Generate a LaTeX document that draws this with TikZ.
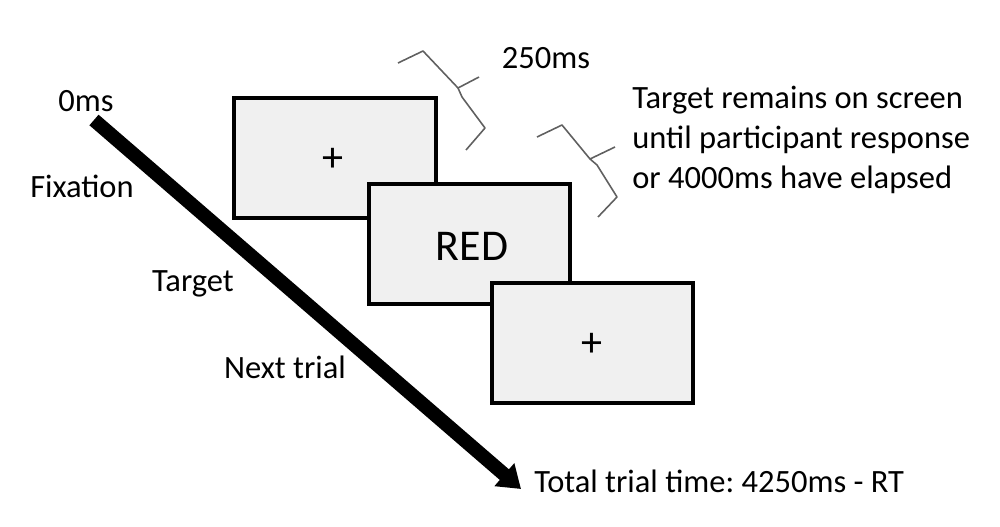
\documentclass[tikz,border=0pt]{standalone}
\usepackage{fontspec}
\setmainfont{Carlito}
\usetikzlibrary{arrows.meta}
\frenchspacing

\begin{document}
\begin{tikzpicture}[x=0.02cm, y=-0.02cm, >={Triangle[length=0.44cm,width=0.58cm]}]
        \useasboundingbox (0,0) rectangle (1000,527);
        \tikzset{screen/.style={draw, line width=0.08cm, fill=gray!12, minimum width=4.04cm, minimum height=2.4cm, inner sep=0pt},
                 lbl/.style={font=\fontsize{18.5}{22}\selectfont, inner sep=0pt},
                 brc/.style={gray!75!black, line width=0.9pt, line join=round}}

        % Time axis
        \coordinate (t0) at (94,120);
        \coordinate (tend) at (521,489);
        \draw[->, line width=0.28cm] (t0) -- (tend);

        % The three screens
        \node[screen] (fix) at (335,158) {};
        \node[font=\fontsize{24}{26}\selectfont, inner sep=0pt] at (333,160) {+};
        \node[screen] (tgt) at (469.5,244) {};
        \node[font=\fontsize{25}{28}\selectfont, inner sep=0pt] (red) at (472,246) {RED};
        \node[screen] (nxt) at (592.5,343) {};
        \node[font=\fontsize{24}{26}\selectfont, inner sep=0pt] at (592,345) {+};

        % Labels along the axis
        \node[lbl] (zero) at (86,101) {0ms};
        \node[lbl] (lfix) at (82,186) {Fixation};
        \node[lbl] (ltgt) at (193,284) {Target};
        \node[lbl] (lnxt) at (285,367) {Next trial};
        \node[lbl, anchor=west] (total) at (534,481) {Total trial time: 4250ms - RT};

        % Braces and durations
        \draw[brc] (398,63) -- (423,51) -- (458,88) -- (479,77);
        \draw[brc] (458,88) -- (462,97) -- (485,128) -- (466,150);
        \draw[brc] (537,137) -- (562,125) -- (590,159) -- (615,147);
        \draw[brc] (590,159) -- (597,165) -- (617,197) -- (598,217);
        \node[lbl] (dur) at (546,58) {250ms};
        \node[lbl, anchor=west, align=left, font=\fontsize{18.5}{22.7}\selectfont] (remain) at (632,140)
            {Target remains on screen\\until participant response\\or 4000ms  have elapsed};
\end{tikzpicture}
\end{document}
